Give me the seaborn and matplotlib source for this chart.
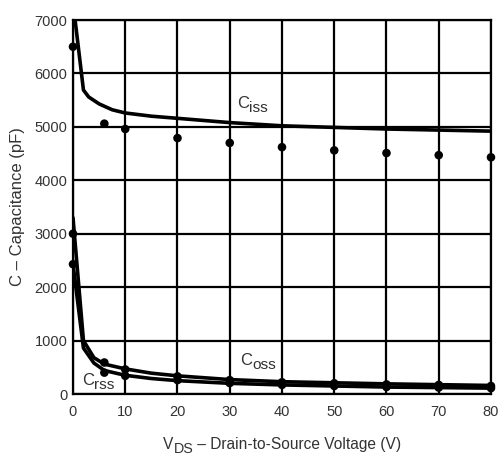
import matplotlib
matplotlib.use("Agg")
import matplotlib.pyplot as plt
from matplotlib.transforms import offset_copy
import pandas as pd
import seaborn as sns

# ----- curve data -----
v_ciss = [0.4, 2, 3, 5, 7.5, 10, 15, 20, 30, 40, 50, 60, 70, 80]
c_ciss = [7000, 5690, 5560, 5430, 5320, 5260, 5200, 5160, 5080, 5020, 4990, 4960, 4940, 4920]

v_coss = [0, 2, 4, 6, 10, 15, 20, 30, 40, 50, 60, 70, 80]
c_coss = [3300, 1000, 680, 560, 470, 390, 340, 270, 230, 210, 190, 175, 160]

v_crss = [0, 2, 4, 6, 10, 15, 20, 30, 40, 50, 60, 70, 80]
c_crss = [2430, 860, 580, 440, 350, 290, 250, 200, 170, 150, 130, 120, 110]

# measured points
v_pts = [0, 6, 10, 20, 30, 40, 50, 60, 70, 80]
ciss_pts = [6500, 5060, 4960, 4790, 4700, 4620, 4560, 4510, 4470, 4430]
coss_pts = [3000, 590, 460, 330, 260, 220, 200, 180, 170, 150]
crss_pts = [2430, 400, 340, 260, 205, 170, 150, 130, 120, 110]

x_ticks = [0, 10, 20, 30, 40, 50, 60, 70, 80]
y_ticks = [0, 1000, 2000, 3000, 4000, 5000, 6000, 7000]

sns.set_style("white")
plt.rcParams['font.family'] = ['Liberation Sans', 'DejaVu Sans']

txt = '#333333'

curves = pd.concat([
    pd.DataFrame({'V': v_ciss, 'C': c_ciss, 'cap': 'Ciss'}),
    pd.DataFrame({'V': v_coss, 'C': c_coss, 'cap': 'Coss'}),
    pd.DataFrame({'V': v_crss, 'C': c_crss, 'cap': 'Crss'}),
])
pts = pd.concat([
    pd.DataFrame({'V': v_pts, 'C': ciss_pts}),
    pd.DataFrame({'V': v_pts, 'C': coss_pts}),
    pd.DataFrame({'V': v_pts, 'C': crss_pts}),
])

fig = plt.figure(figsize=(5.01, 4.59), dpi=100)
ax = fig.add_axes([0.1457, 0.1416, 0.8343, 0.8148])

sns.lineplot(data=curves, x='V', y='C', units='cap', estimator=None,
             color='black', linewidth=2.6, ax=ax, sort=True)
sns.scatterplot(data=pts, x='V', y='C', color='black', s=38,
                edgecolor='none', ax=ax, zorder=5, clip_on=False)

ax.set_xlim(0, 80)
ax.set_ylim(0, 7000)
ax.set_xticks(x_ticks)
ax.set_yticks(y_ticks)
ax.grid(True, color='black', linewidth=1.6)
ax.set_axisbelow(True)
for s in ax.spines.values():
    s.set_color('black')
    s.set_linewidth(1.6)
ax.tick_params(length=0, labelsize=10.5, labelcolor=txt)
ax.tick_params(axis='x', pad=8)
ax.tick_params(axis='y', pad=4)
ax.set_xlabel('')
ax.set_ylabel('C – Capacitance (pF)', fontsize=12, color=txt, labelpad=7)

renderer = fig.canvas.get_renderer()


def sub_text(x, y, parts, transform, ha='left', size=10.5):
    # parts: list of (string, is_subscript); drawn one after another
    items = []
    for s, is_sub in parts:
        t = fig.text(0, 0, s, fontsize=size * (0.92 if is_sub else 1.0),
                     color=txt, transform=transform)
        items.append((t, is_sub))
    widths = [t.get_window_extent(renderer).width for t, _ in items]
    dx = 0 if ha == 'left' else -sum(widths) / 2
    for (t, is_sub), w in zip(items, widths):
        t.set_position((x, y))
        t.set_transform(offset_copy(transform, fig=fig, x=dx,
                                    y=-4 if is_sub else 0, units='dots'))
        dx += w


# curve labels
sub_text(31.4, 5360, [('C', False), ('iss', True)], ax.transData, size=12)
sub_text(32, 540, [('C', False), ('oss', True)], ax.transData, size=12)
sub_text(1.7, 170, [('C', False), ('rss', True)], ax.transData, size=12)

# x axis label
sub_text(0.5634, 0.022, [('V', False), ('DS', True),
                         (' – Drain-to-Source Voltage (V)', False)],
         fig.transFigure, ha='center', size=11.2)

fig.savefig('out.png', dpi=100)
